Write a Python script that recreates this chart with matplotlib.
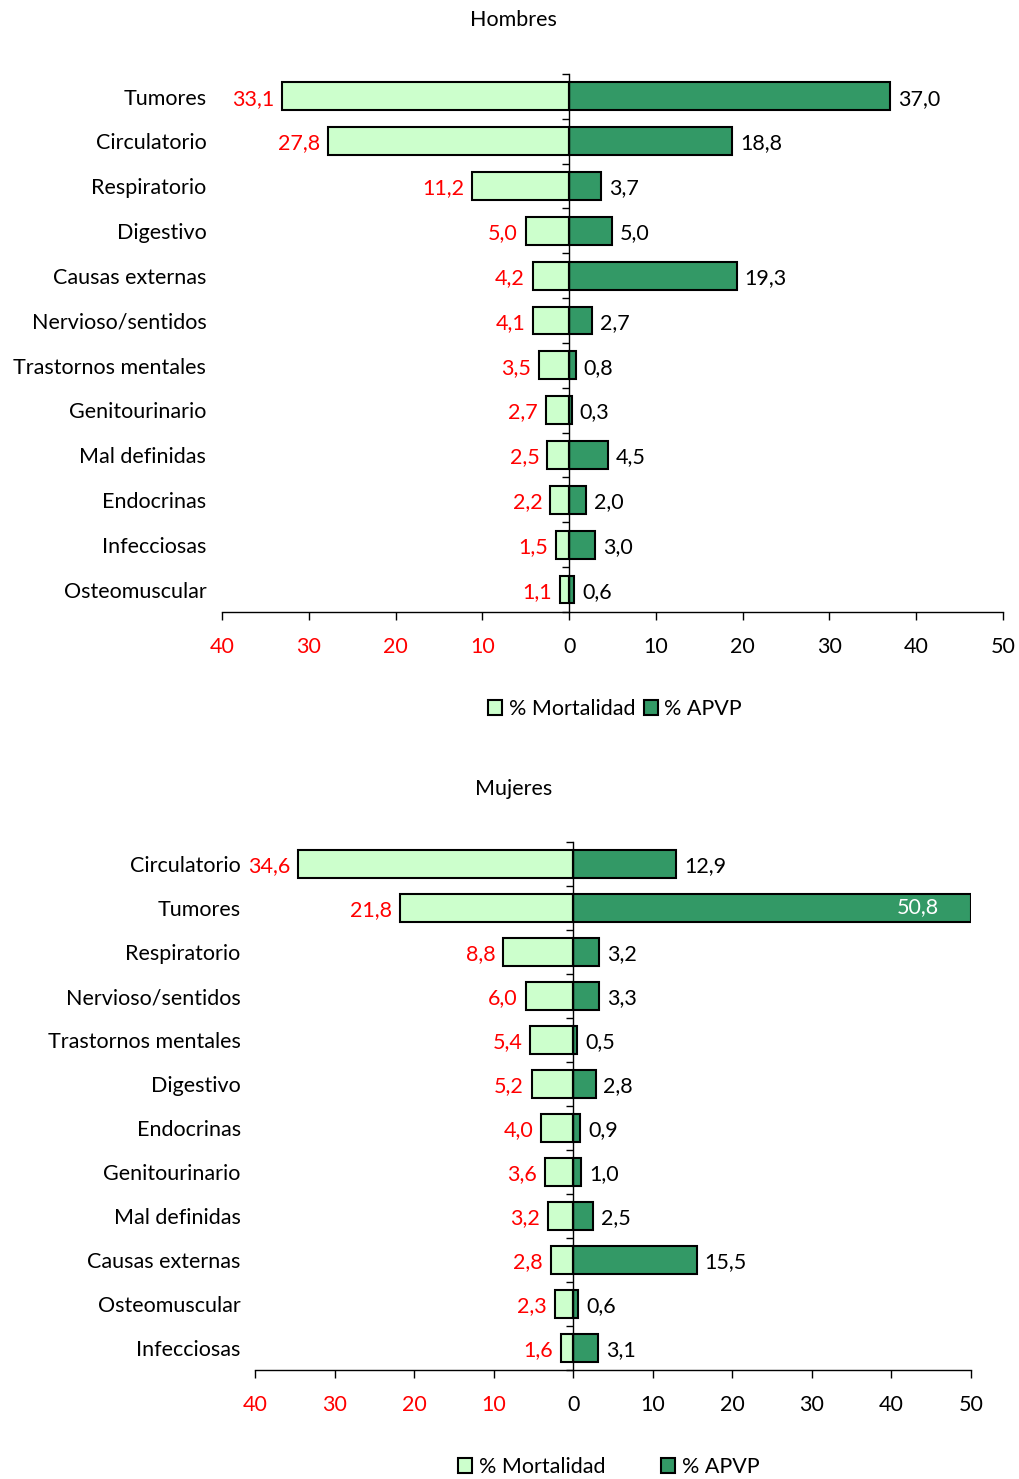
import matplotlib.pyplot as plt
import matplotlib.patches as mpatches
import numpy as np

plt.rcParams['font.family'] = ['Lato', 'DejaVu Sans']

LIGHT = '#ccffcc'
DARK = '#339966'
FS = 15.5

# Hombres
cat_h = ['Tumores', 'Circulatorio', 'Respiratorio', 'Digestivo', 'Causas externas',
         'Nervioso/sentidos', 'Trastornos mentales', 'Genitourinario', 'Mal definidas',
         'Endocrinas', 'Infecciosas', 'Osteomuscular']
mort_h = [33.1, 27.8, 11.2, 5.0, 4.2, 4.1, 3.5, 2.7, 2.5, 2.2, 1.5, 1.1]
apvp_h = [37.0, 18.8, 3.7, 5.0, 19.3, 2.7, 0.8, 0.3, 4.5, 2.0, 3.0, 0.6]

# Mujeres
cat_m = ['Circulatorio', 'Tumores', 'Respiratorio', 'Nervioso/sentidos', 'Trastornos mentales',
         'Digestivo', 'Endocrinas', 'Genitourinario', 'Mal definidas', 'Causas externas',
         'Osteomuscular', 'Infecciosas']
mort_m = [34.6, 21.8, 8.8, 6.0, 5.4, 5.2, 4.0, 3.6, 3.2, 2.8, 2.3, 1.6]
apvp_m = [12.9, 50.8, 3.2, 3.3, 0.5, 2.8, 0.9, 1.0, 2.5, 15.5, 0.6, 3.1]

xticks = [-40, -30, -20, -10, 0, 10, 20, 30, 40, 50]
XMIN, XMAX = -40, 50


def fmt(v):
    return ('%.1f' % v).replace('.', ',')


def piramide(ax, cats, mort, apvp, bar_h, lab_gap):
    n = len(cats)
    y = np.arange(n)
    ax.barh(y, [-v for v in mort], height=bar_h, color=LIGHT, edgecolor='black', lw=1.5)
    apvp_clip = [min(v, XMAX) for v in apvp]
    ax.barh(y, apvp_clip, height=bar_h, color=DARK, edgecolor='black', lw=1.5,
            clip_on=True)
    ax.set_xlim(XMIN, XMAX)
    ax.set_ylim(n - 0.5, -0.5)

    for i in range(n):
        yt = i + 0.05
        ax.text(-mort[i] - lab_gap, yt, fmt(mort[i]), color='red', fontsize=FS,
                ha='right', va='center')
        if apvp[i] > XMAX:
            ax.text(XMAX - 4, i - 0.02, fmt(apvp[i]), color='white', fontsize=FS,
                    ha='right', va='center')
        else:
            ax.text(apvp[i] + lab_gap, yt, fmt(apvp[i]), color='black', fontsize=FS,
                    ha='left', va='center')
        ax.text(-0.02, yt, cats[i], transform=ax.get_yaxis_transform(),
                ha='right', va='center', fontsize=FS)

    # vertical axis through zero with boundary ticks
    for s in ['top', 'right']:
        ax.spines[s].set_visible(False)
    ax.spines['left'].set_position(('data', 0))
    ax.spines['left'].set_linewidth(1.0)
    ax.spines['bottom'].set_linewidth(1.0)
    ax.set_yticks(np.arange(-0.5, n, 1.0))
    ax.set_yticklabels([])
    ax.tick_params(axis='y', length=5, width=1.0, direction='out')

    ax.set_xticks(xticks)
    ax.set_xticklabels([str(abs(t)) for t in xticks], fontsize=FS)
    for t, lab in zip(xticks, ax.get_xticklabels()):
        lab.set_color('red' if t < 0 else 'black')
    ax.tick_params(axis='x', length=6, width=1.0, pad=12)


fig = plt.figure(figsize=(10.2, 14.79), dpi=100)

ax1 = fig.add_axes([0.2176, 0.5862, 0.7657, 0.3638])
piramide(ax1, cat_h, mort_h, apvp_h, 0.62, 0.9)
fig.text(0.503, 0.9865, 'Hombres', ha='center', va='center', fontsize=FS)

ax2 = fig.add_axes([0.25, 0.0737, 0.702, 0.357])
piramide(ax2, cat_m, mort_m, apvp_m, 0.64, 1.0)
fig.text(0.504, 0.4666, 'Mujeres', ha='center', va='center', fontsize=FS)

handles = [mpatches.Patch(facecolor=LIGHT, edgecolor='black', lw=1.5, label='% Mortalidad'),
           mpatches.Patch(facecolor=DARK, edgecolor='black', lw=1.5, label='% APVP')]
fig.legend(handles=handles, loc='center', bbox_to_anchor=(0.603, 0.5206), ncol=2,
           frameon=False, fontsize=FS, handlelength=0.65, handleheight=0.65,
           handletextpad=0.3, columnspacing=0.4)
fig.legend(handles=handles, loc='center', bbox_to_anchor=(0.597, 0.0080), ncol=2,
           frameon=False, fontsize=FS, handlelength=0.65, handleheight=0.65,
           handletextpad=0.3, columnspacing=2.6)

fig.savefig('out.png', dpi=100)
